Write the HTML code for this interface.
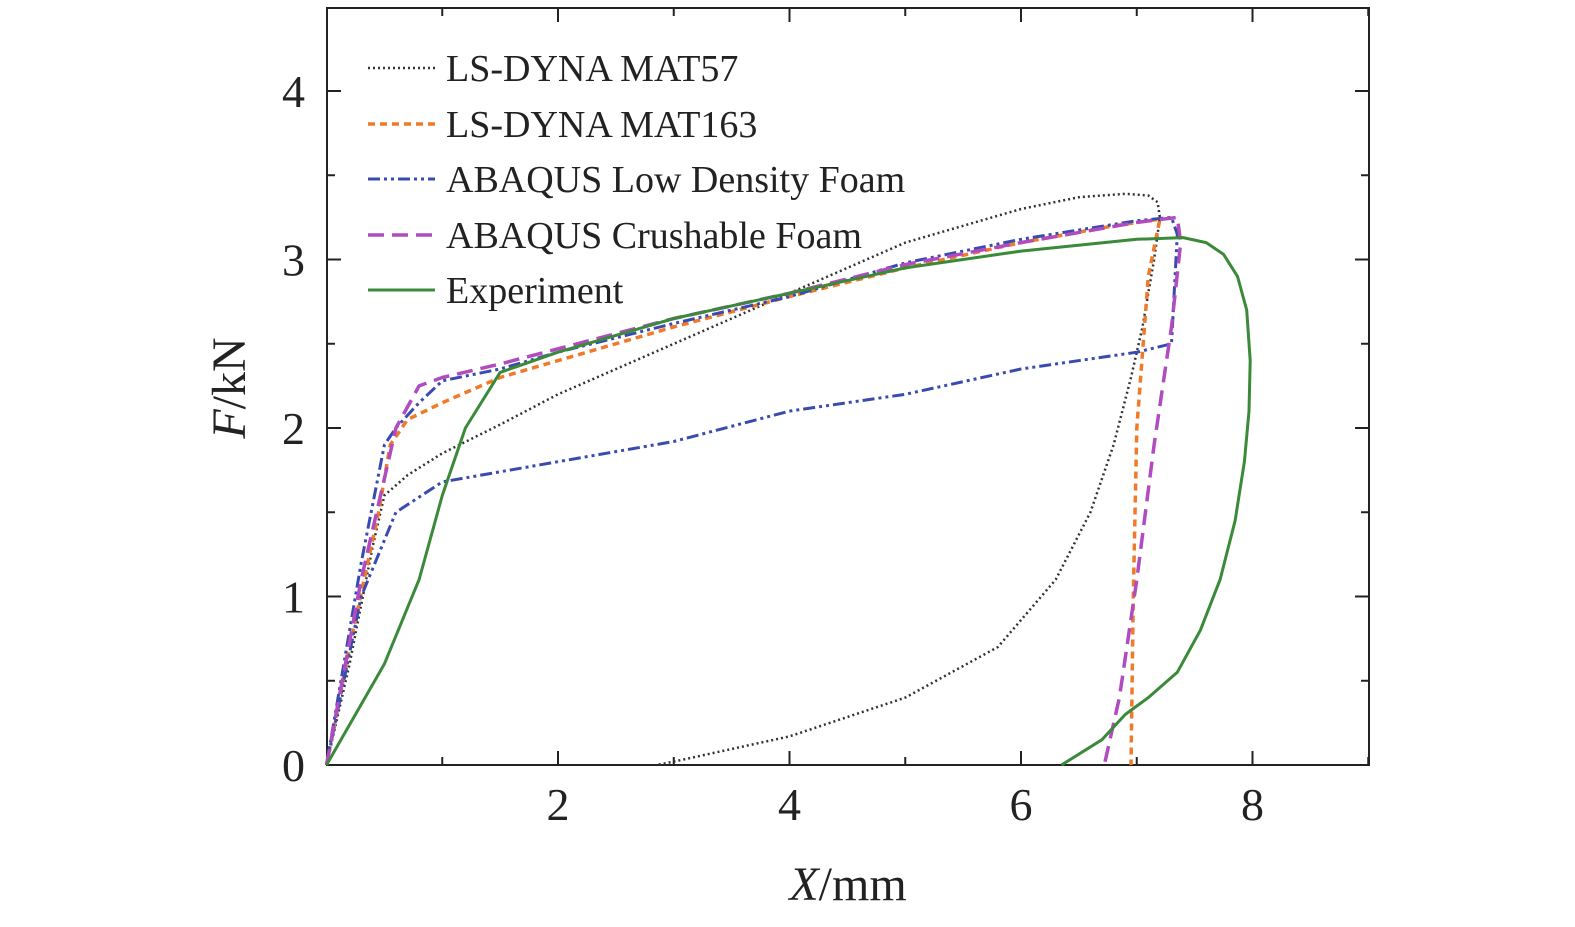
<!DOCTYPE html>
<html><head><meta charset="utf-8"><style>
html,body{margin:0;padding:0;background:#fff;}
svg{display:block;font-family:"Liberation Serif",serif;}
</style></head><body>
<svg id="chart" width="1575" height="927" viewBox="0 0 1575 927"></svg>
<script>
const xTicks=[2,4,6,8];
const yTicks=[0,1,2,3,4];
const seriesNames=["LS-DYNA MAT57","LS-DYNA MAT163","ABAQUS Low Density Foam","ABAQUS Crushable Foam","Experiment"];
const mat57X=[0,0.2,0.4,0.5,0.7,1,1.5,2,3,4,5,6,6.5,6.9,7.1,7.18,7.2,7.15,7.05,6.95,6.8,6.6,6.3,5.8,5,4,3,2.85];
const mat57Y=[0,0.6,1.3,1.6,1.72,1.85,2.02,2.2,2.5,2.8,3.1,3.3,3.37,3.39,3.38,3.34,3.25,3.0,2.6,2.3,1.9,1.5,1.1,0.7,0.4,0.17,0.02,0];
const mat163X=[0,0.2,0.45,0.55,0.7,1,1.5,2,3,4,5,6,6.8,7.2,7.1,7.0,6.97,6.95];
const mat163Y=[0,0.7,1.5,1.9,2.05,2.15,2.3,2.4,2.6,2.78,2.95,3.1,3.2,3.24,2.9,2.0,1.0,0];
const ldfX=[0,0.3,0.5,0.6,0.8,1,1.5,2,3,4,5,6,7,7.3,7.35,7.3,7,6,5,4,3,2,1,0.6,0.3,0];
const ldfY=[0,1.2,1.9,2.0,2.15,2.28,2.35,2.45,2.62,2.78,2.98,3.12,3.23,3.25,3.15,2.5,2.45,2.35,2.2,2.1,1.92,1.8,1.68,1.5,1.0,0];
const crushX=[0,0.3,0.5,0.6,0.8,1,1.5,2,3,4,5,6,7,7.35,7.38,7.3,7.15,7.0,6.85,6.72];
const crushY=[0,1.1,1.7,2.0,2.25,2.3,2.38,2.47,2.65,2.8,2.97,3.1,3.22,3.25,3.1,2.6,1.9,1.1,0.4,0];
const expX=[0,0.5,0.8,1.0,1.2,1.5,2,3,4,5,6,7,7.4,7.6,7.75,7.87,7.95,7.98,7.97,7.93,7.85,7.72,7.55,7.35,7.1,6.9,6.7,6.35];
const expY=[0,0.6,1.1,1.6,2.0,2.33,2.45,2.65,2.8,2.95,3.05,3.12,3.13,3.1,3.03,2.9,2.7,2.4,2.1,1.8,1.45,1.1,0.8,0.55,0.4,0.3,0.15,0];

const NS="http://www.w3.org/2000/svg";
const svg=document.getElementById("chart");
const L=327,R=1369,T=8,B=765;
const sx=v=>326.5+v*115.75;
const sy=v=>765-v*168.5;
function mk(tag,attrs){const e=document.createElementNS(NS,tag);for(const k in attrs)e.setAttribute(k,attrs[k]);svg.appendChild(e);return e;}

const frame=mk("rect",{x:L,y:T,width:R-L,height:B-T,fill:"none",stroke:"#222","stroke-width":2});



for(let i=1;i<=9;i++){
  const x=sx(i),len=(i%2===0)?14:8;
  const t1=mk("line",{x1:x,y1:B,x2:x,y2:B-len,stroke:"#222","stroke-width":2});
  
  
  const t2=mk("line",{x1:x,y1:T,x2:x,y2:T+len,stroke:"#222","stroke-width":2});
  
  
}
for(let v=0.5;v<4.5;v+=0.5){
  const y=sy(v),len=(Math.abs(v-Math.round(v))<1e-6)?14:8;
  const t1=mk("line",{x1:L,y1:y,x2:L+len,y2:y,stroke:"#222","stroke-width":2});
  
  
  const t2=mk("line",{x1:R,y1:y,x2:R-len,y2:y,stroke:"#222","stroke-width":2});
  
  
}
xTicks.forEach(v=>{
  const t=mk("text",{x:sx(v),y:820,"text-anchor":"middle","font-size":46,fill:"#222"});
  t.textContent=v;
  
  
});
yTicks.forEach(v=>{
  const t=mk("text",{x:305,y:sy(v)+16,"text-anchor":"end","font-size":46,fill:"#222"});
  t.textContent=v;
  
  
});
const xt=mk("text",{x:848,y:900,"text-anchor":"middle","font-size":48,fill:"#222"});
xt.innerHTML='<tspan font-style="italic">X</tspan>/mm';


const yt=mk("text",{x:0,y:0,"text-anchor":"middle","font-size":48,fill:"#222",transform:"translate(245,388) rotate(-90)"});
yt.innerHTML='<tspan font-style="italic">F</tspan>/kN';



const styles=[
 {c:"#333",d:"2 3",w:2.5},
 {c:"#f07a2a",d:"7 5",w:3.5},
 {c:"#3a4bb0",d:"12 4 3 4 3 4",w:3},
 {c:"#b04cc0",d:"16 8",w:3.5},
 {c:"#3a8a3a",d:"",w:3}
];
const data=[[mat57X,mat57Y],[mat163X,mat163Y],[ldfX,ldfY],[crushX,crushY],[expX,expY]];
const names=["series-mat57","series-mat163","series-low-density-foam","series-crushable-foam","series-experiment"];
data.forEach((s,i)=>{
  const d=s[0].map((x,k)=>(k?"L":"M")+sx(x).toFixed(1)+","+sy(s[1][k]).toFixed(1)).join(" ");
  const p=mk("path",{d:d,fill:"none",stroke:styles[i].c,"stroke-width":styles[i].w,"stroke-dasharray":styles[i].d,"stroke-linejoin":"round"});
  
  
});
const legY=[68,124,179,235,290];
seriesNames.forEach((n,i)=>{
  const l=mk("line",{x1:368,y1:legY[i],x2:435,y2:legY[i],stroke:styles[i].c,"stroke-width":styles[i].w,"stroke-dasharray":styles[i].d});
  
  
  const t=mk("text",{x:446,y:legY[i]+13,"font-size":38,fill:"#222"});
  t.textContent=n;
  
  
});
</script>
</body></html>
